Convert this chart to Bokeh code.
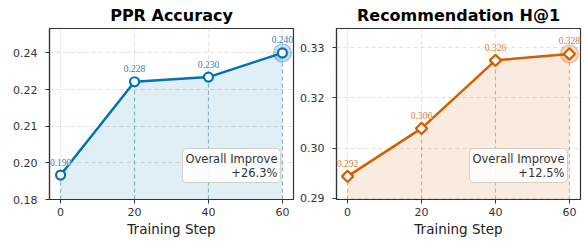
import numpy as np
from bokeh.plotting import figure
from bokeh.models import ColumnDataSource, LabelSet, Label, Range1d, FixedTicker
from bokeh.layouts import row
from bokeh.embed import file_html
from bokeh.resources import INLINE

# ---- data ----
steps = [0, 20, 40, 60]
ppr_acc = [0.190, 0.2282, 0.2301, 0.240]
rec_h1 = [0.2916, 0.3059, 0.3262, 0.3281]
x_ticks = [0, 20, 40, 60]
ppr_yticks = [0.18, 0.195, 0.21, 0.225, 0.24]
ppr_ytick_labels = ["0.18", "0.20", "0.21", "0.22", "0.24"]
rec_yticks = [0.285, 0.30, 0.315, 0.33]
rec_ytick_labels = ["0.29", "0.30", "0.32", "0.33"]
titles = ["PPR Accuracy", "Recommendation H@1"]
x_label = "Training Step"
box_title = "Overall Improve"

FONT = "DejaVu Sans"
FW, FH = 244, 171


def panel(title, ys, color, label_color, marker, yr, yticks, ylabels, left_border, right_border):
    p = figure(frame_width=FW, frame_height=FH, output_backend="svg",
               toolbar_location=None, x_range=Range1d(-3, 63),
               y_range=Range1d(*yr), min_border_left=left_border,
               min_border_right=right_border,
               min_border_top=27, min_border_bottom=44, title=title)
    p.background_fill_color = "white"
    p.border_fill_color = "white"
    p.outline_line_color = "#333333"
    p.outline_line_width = 1.2

    p.title.align = "center"
    p.title.text_font = FONT
    p.title.text_font_style = "bold"
    p.title.text_font_size = "16px"
    p.title.text_color = "black"
    p.title.standoff = 7
    p.title.offset = 0

    # axes
    p.xaxis.ticker = FixedTicker(ticks=x_ticks)
    p.yaxis.ticker = FixedTicker(ticks=yticks)
    p.yaxis.major_label_overrides = {t: l for t, l in zip(yticks, ylabels)}
    for ax in (p.xaxis, p.yaxis):
        ax.axis_line_color = "#333333"
        ax.axis_line_width = 1.2
        ax.major_tick_line_color = "#333333"
        ax.major_tick_line_width = 1.0
        ax.major_tick_out = 4
        ax.major_tick_in = 0
        ax.minor_tick_line_color = None
        ax.major_label_text_font = FONT
        ax.major_label_text_font_size = "11px"
        ax.major_label_text_color = "#333333"
    p.yaxis.major_label_standoff = 8
    p.xaxis.major_label_standoff = 4
    p.xaxis.axis_label = x_label
    p.xaxis.axis_label_text_font = FONT
    p.xaxis.axis_label_text_font_style = "normal"
    p.xaxis.axis_label_text_font_size = "13.5px"
    p.xaxis.axis_label_text_color = "#222222"
    p.xaxis.axis_label_standoff = 2

    # grid
    p.xgrid.ticker = FixedTicker(ticks=x_ticks)
    p.ygrid.ticker = FixedTicker(ticks=yticks)
    for g in (p.xgrid, p.ygrid):
        g.grid_line_color = "#e3dccf"
        g.grid_line_dash = "4 3"
        g.grid_line_width = 0.9

    ymin = yr[0]
    src = ColumnDataSource(dict(
        x=steps, y=ys, y0=[ymin] * len(ys),
        lab=["%.3f" % v for v in ys]))

    p.varea(x="x", y1="y0", y2="y", source=src, fill_color=color, fill_alpha=0.12)
    p.segment(x0="x", y0="y0", x1="x", y1="y", source=src, line_color=color,
              line_alpha=0.35, line_width=1.2, line_dash="4 3")
    p.line(x="x", y="y", source=src, line_color=color, line_width=2.5)

    # halo on last point
    p.scatter(x=[steps[-1]], y=[ys[-1]], size=18, marker="circle",
              fill_color=color, fill_alpha=0.22, line_color=color, line_alpha=0.3,
              line_width=1.5)
    if marker == "circle":
        p.scatter(x="x", y="y", source=src, marker="circle", size=9,
                  fill_color="white", line_color=color, line_width=2.2)
    else:
        p.scatter(x="x", y="y", source=src, marker="square", angle=np.pi / 4,
                  size=8, fill_color="white", line_color=color, line_width=2.2)

    p.add_layout(LabelSet(x="x", y="y", text="lab", source=src, y_offset=13,
                          text_align="center", text_baseline="middle",
                          text_font=FONT, text_font_size="9.5px",
                          text_color=label_color,
                          background_fill_color="white", background_fill_alpha=0.6))

    imp = (ys[-1] / ys[0] - 1) * 100
    p.add_layout(Label(x=FW - 13, y=17, x_units="screen", y_units="screen",
                       text="%s\n+%.1f%%" % (box_title, imp),
                       text_align="right", text_baseline="bottom",
                       text_font=FONT, text_font_size="11.5px",
                       text_color="#333333", text_line_height=1.0,
                       background_fill_color="white", background_fill_alpha=0.85,
                       border_line_color="#d6d0c4", border_line_width=1,
                       padding=3, border_radius=4))
    return p


p1 = panel(titles[0], ppr_acc, "#0072B2", "#2a80c0", "circle", (0.18, 0.25),
           ppr_yticks, ppr_ytick_labels, 49, 2)
p2 = panel(titles[1], rec_h1, "#D55E00", "#e07a30", "diamond", (0.2847, 0.3357),
           rec_yticks, rec_ytick_labels, 41, 5)

layout = row(p1, p2)
open("out.html", "w").write(file_html(layout, INLINE))
